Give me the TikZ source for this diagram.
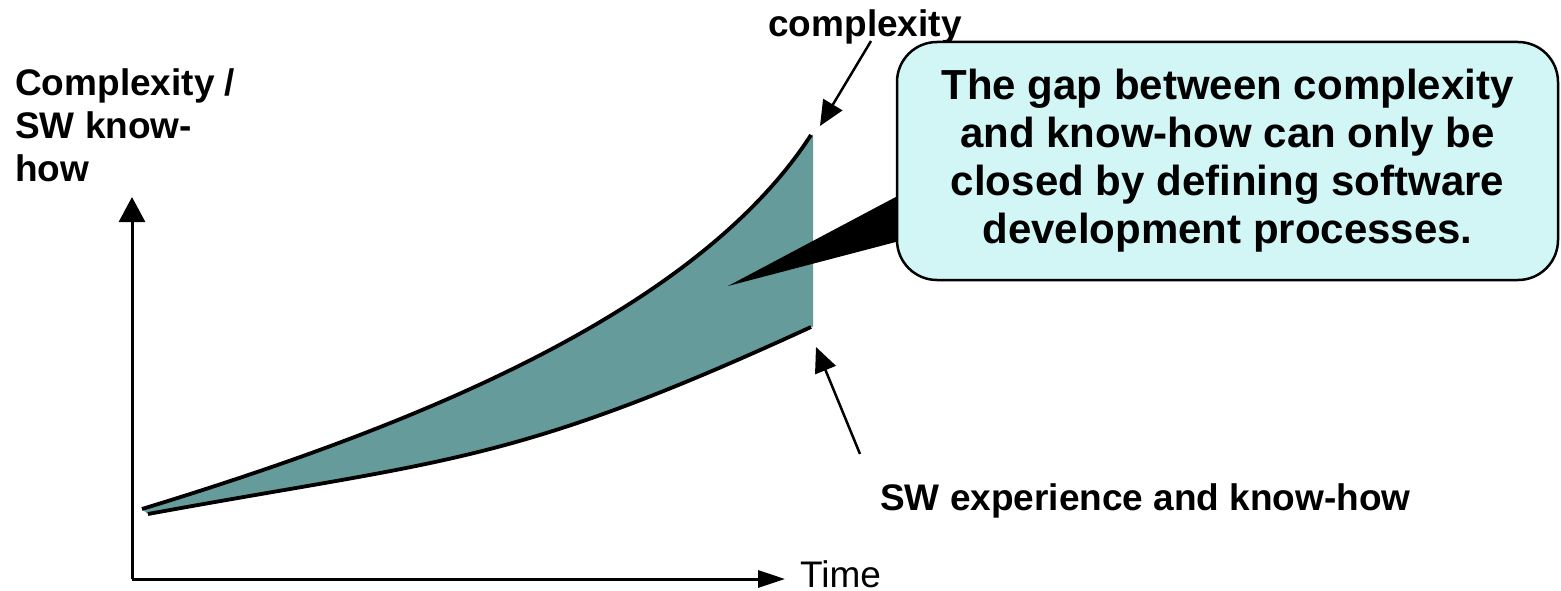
\documentclass[tikz,border=0pt]{standalone}
\usepackage{fontspec}
\setmainfont{Liberation Sans}
\usetikzlibrary{arrows.meta}
\definecolor{gapfill}{RGB}{102,155,155}
\definecolor{notefill}{RGB}{210,245,245}
\tikzset{
  axisline/.style={line width=3pt},
  curveline/.style={line width=3.8pt},
  arrowline/.style={line width=2.5pt},
  lbl/.style={font=\fontsize{37}{43}\selectfont\bfseries, inner sep=0pt},
  notebox/.style={draw=black, line width=2.5pt, fill=notefill, rounded corners=40pt,
    minimum width=661pt, minimum height=238pt, align=center, inner sep=0pt,
    font=\fontsize{42}{48}\selectfont\bfseries},
}
\begin{document}
\begin{tikzpicture}[x=1pt,y=-1pt]
\useasboundingbox (0,0) rectangle (1561,591);

% axes
\coordinate (origin) at (132,579);
\coordinate (ytip) at (132,197);
\coordinate (xtip) at (785,579);
\draw[axisline,-{Triangle[length=25pt,width=26pt]}] (origin) -- (ytip);
\draw[axisline,-{Triangle[length=27pt,width=17pt]}] (origin) -- (xtip);

% gap between complexity and know-how
\fill[gapfill] (142,509) .. controls (392,432.5) and (691,320) .. (811,135)
  -- (813,135) -- (813,327) -- (811,327)
  .. controls (511,465) and (448,459.1) .. (148,514) -- cycle;
\draw[curveline] (142,509) .. controls (392,432.5) and (691,320) .. (811,135);
\draw[curveline] (148,514) .. controls (448,459.1) and (511,465) .. (811,327);

% labels
\node[lbl, anchor=north west, align=left] (ylabel) at (15,68) {Complexity /\\SW know-\\how};
\node[lbl, font=\fontsize{37}{43}\selectfont, anchor=base west] (timelabel) at (800,587) {Time};
\node[lbl, anchor=base] (cplx) at (865,37) {complexity};
\node[lbl, anchor=base west] (swkh) at (880,510) {SW experience and know-how};

% label arrows
\coordinate (ctail) at (871,41);
\coordinate (ctip) at (820,126);
\coordinate (stail) at (860,454);
\coordinate (stip) at (816,347);
\draw[arrowline,-{Triangle[length=25pt,width=22pt]}] (ctail) -- (ctip);
\draw[arrowline,-{Triangle[length=25pt,width=22pt]}] (stail) -- (stip);

% callout
\node[notebox] (note) at (1227.5,161) {The gap between complexity\\and know-how can only be\\closed by defining software\\development processes.};
\coordinate (gaptip) at (728,286);
\fill[black] (gaptip) -- ([yshift=-36pt]note.west) -- ([yshift=-81pt]note.west) -- cycle;
\end{tikzpicture}
\end{document}
